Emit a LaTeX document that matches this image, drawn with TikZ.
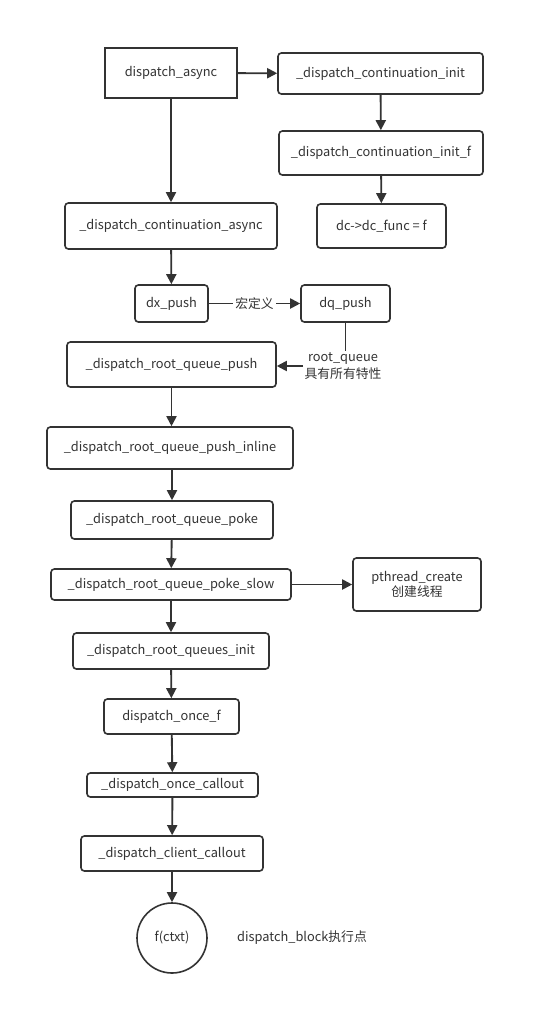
\documentclass[tikz,border=0pt]{standalone}
\usepackage{fontspec}
\setmainfont{Noto Sans CJK SC}
\usetikzlibrary{arrows.meta}
\definecolor{ink}{HTML}{333333}
\begin{document}
\begin{tikzpicture}[x=0.75pt,y=-0.75pt,
  base/.style={draw=ink,line width=1.2pt,fill=white,text=ink,inner sep=0pt,
    font=\fontsize{9.6}{12}\selectfont},
  box/.style={base,rectangle,rounded corners=2.5pt},
  sbox/.style={base,rectangle,line width=1.5pt},
  cbox/.style={base,circle},
  lbl/.style={text=ink,inner sep=1pt,font=\fontsize{9.6}{12.5}\selectfont,align=center},
  conn/.style={draw=ink,line width=1.4pt},
  arr/.style={conn,-{Triangle[length=7.5pt,width=7.5pt]}}]
\useasboundingbox (0,0) rectangle (546,1036);
\fill[white] (0,0) rectangle (546,1036);

\node[sbox,minimum width=99pt,minimum height=37.5pt] (async) at (171,73) {dispatch\_async};
\node[box,minimum width=153.75pt,minimum height=30.75pt] (init) at (380.5,73.5) {\_dispatch\_continuation\_init};
\node[box,minimum width=153pt,minimum height=33pt] (initf) at (381,153) {\_dispatch\_continuation\_init\_f};
\node[box,minimum width=96.75pt,minimum height=33pt] (dc) at (381.5,226) {dc->dc\_func = f};
\node[box,minimum width=159pt,minimum height=34.5pt] (cont) at (171,226) {\_dispatch\_continuation\_async};
\node[box,minimum width=54.75pt,minimum height=27.75pt] (dx) at (171.5,303.5) {dx\_push};
\node[box,minimum width=66.75pt,minimum height=27.75pt] (dq) at (345.5,303.5) {dq\_push};
\node[box,minimum width=156.75pt,minimum height=33.75pt] (push) at (171.5,364.5) {\_dispatch\_root\_queue\_push};
\node[box,minimum width=184.5pt,minimum height=31.5pt] (inline) at (170,448) {\_dispatch\_root\_queue\_push\_inline};
\node[box,minimum width=151.5pt,minimum height=28.5pt] (poke) at (172,520) {\_dispatch\_root\_queue\_poke};
\node[box,minimum width=180pt,minimum height=23.25pt] (slow) at (171,584.5) {\_dispatch\_root\_queue\_poke\_slow};
\node[box,minimum width=96pt,minimum height=39.75pt,align=center] (pth) at (417,584.5) {pthread\_create\\[-1pt]创建线程};
\node[box,minimum width=147pt,minimum height=27pt] (qinit) at (171,651) {\_dispatch\_root\_queues\_init};
\node[box,minimum width=101.25pt,minimum height=26.25pt] (oncef) at (171.5,716.5) {dispatch\_once\_f};
\node[box,minimum width=128.25pt,minimum height=18pt] (oncec) at (172.5,785) {\_dispatch\_once\_callout};
\node[box,minimum width=136.5pt,minimum height=26.25pt] (client) at (172,853.5) {\_dispatch\_client\_callout};
\node[cbox,minimum size=52.5pt] (f) at (172,938) {f(ctxt)};
\node[lbl] (note) at (302,938) {dispatch\_block执行点};
\node[lbl] (rq) at (343,366) {root\_queue\\具有所有特性};

\draw[arr] (async) -- (init);
\draw[arr] (init) -- (initf);
\draw[arr] (initf) -- (dc);
\draw[arr] (async) -- (cont);
\draw[arr] (cont) -- (dx);
\draw[arr] (dx) -- node[lbl,fill=white,inner sep=1.5pt] (macro) {宏定义} (dq);
\draw[conn] (dq.south) -- (dq.south |- rq.north);
\draw[arr] (rq.west) -- (push.east |- rq.west);
\draw[arr] (push) -- (push |- inline.north);
\draw[arr] (inline.south -| poke) -- (poke);
\draw[arr] (poke) -- (slow);
\draw[arr] (slow) -- (pth);
\draw[arr] (slow) -- (qinit);
\draw[arr] (qinit) -- (oncef);
\draw[arr] (oncef) -- (oncec);
\draw[arr] (oncec) -- (client);
\draw[arr] (client) -- (f);
\end{tikzpicture}
\end{document}
